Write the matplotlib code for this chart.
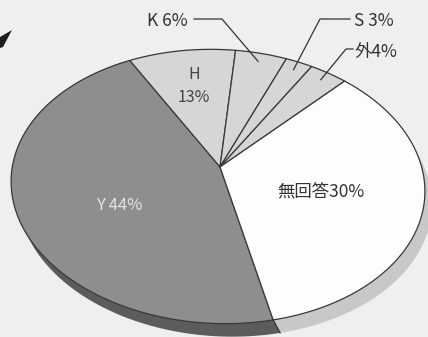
import numpy as np
import matplotlib.pyplot as plt
from matplotlib.patches import Polygon

plt.rcParams['font.family'] = ['Noto Sans CJK JP', 'DejaVu Sans']

# Datos del gráfico (sentido horario desde abajo)
categorias = ['Y', 'H', 'K', 'S', '外', '無回答']
porcentajes = [44, 13, 6, 3, 4, 30]
etiquetas = ['Y 44%', 'H\n13%', 'K 6%', 'S 3%', '外4%', '無回答30%']

colores_sup = ['#8e8e8e', '#d6d6d6', '#d6d6d6', '#d6d6d6', '#d6d6d6', '#fdfdfd']
colores_lado = ['#5c5c5c', '#a8a8a8', '#a8a8a8', '#a8a8a8', '#a8a8a8', '#c8c8c8']

# Geometría de la elipse (en píxeles de la imagen)
CX, CY = 218, 186.5
A, B = 207, 137
ROT = np.radians(-2.4)
APEX = (220, 167)
LADO = (7, 13)          # desplazamiento del canto
R_PERSP = 0.45          # deformación de perspectiva
PHI = 100               # dirección de la compresión (grados)
INICIO = 284.5          # ángulo de inicio (grados)


def warp(theta):
    """Ángulo real -> ángulo paramétrico de la elipse (perspectiva)."""
    off = np.radians(PHI - 90)
    a = theta - off
    t = np.arctan2(np.sin(a) * np.cosh(R_PERSP) + np.sinh(R_PERSP), np.cos(a))
    return np.unwrap(t) + off


def borde(theta, dx=0, dy=0):
    t = warp(theta)
    u = A * np.cos(t)
    v = B * np.sin(t)
    up = u * np.cos(ROT) - v * np.sin(ROT)
    vp = u * np.sin(ROT) + v * np.cos(ROT)
    return CX + up + dx, CY - vp + dy


fig = plt.figure(figsize=(4.28, 3.37), dpi=100)
fig.patch.set_facecolor('#efefef')
ax = fig.add_axes([0, 0, 1, 1])
ax.set_xlim(0, 428)
ax.set_ylim(337, 0)
ax.axis('off')

fr = np.array(porcentajes) / sum(porcentajes)
limites = np.radians(INICIO - 360 * np.concatenate([[0], np.cumsum(fr)]))

# canto (lado 3D)
for i in range(len(porcentajes)):
    th = np.linspace(limites[i], limites[i + 1], 200)
    x1, y1 = borde(th)
    x2, y2 = borde(th, *LADO)
    ax.add_patch(Polygon(np.column_stack([np.r_[x1, x2[::-1]], np.r_[y1, y2[::-1]]]),
                         closed=True, facecolor=colores_lado[i], edgecolor='none'))
x0, y0 = borde(np.array([limites[0]]))
ax.plot([x0[0], x0[0] + LADO[0]], [y0[0], y0[0] + LADO[1]], color='#333333', lw=0.9)

# cara superior
anclas = []
for i in range(len(porcentajes)):
    th = np.linspace(limites[i], limites[i + 1], 200)
    x, y = borde(th)
    ax.add_patch(Polygon(np.column_stack([np.r_[APEX[0], x], np.r_[APEX[1], y]]),
                         closed=True, facecolor=colores_sup[i], edgecolor='#383838',
                         lw=0.9, joinstyle='round'))
    xm, ym = borde(np.array([(limites[i] + limites[i + 1]) / 2]))
    anclas.append((APEX[0] + 0.93 * (xm[0] - APEX[0]), APEX[1] + 0.93 * (ym[0] - APEX[1])))

# etiquetas internas
ax.text(119, 205, etiquetas[0], color='#e4e4e4', fontsize=12, ha='center', va='center')
ax.text(194, 86, etiquetas[1], color='#444444', fontsize=11.5, ha='center', va='center',
        linespacing=1.45)
ax.text(321, 192, etiquetas[5], color='#333333', fontsize=12.5, ha='center', va='center')

# etiquetas externas con líneas guía
ax.text(188, 21, etiquetas[2], color='#333333', fontsize=12.5, ha='right', va='center')
ax.plot([194, 222, anclas[2][0]], [19, 19, anclas[2][1]], color='#333333', lw=0.9)
ax.text(354, 21, etiquetas[3], color='#333333', fontsize=12.5, ha='left', va='center')
ax.plot([350, 320, anclas[3][0]], [19, 19, anclas[3][1]], color='#333333', lw=0.9)
ax.text(355, 52, etiquetas[4], color='#333333', fontsize=12.5, ha='left', va='center')
ax.plot([353, 346, anclas[4][0]], [49, 49, anclas[4][1]], color='#333333', lw=0.9)

# punta de flecha cortada (arriba a la izquierda)
ax.add_patch(Polygon([[0, 37], [12, 30], [3, 47], [0, 48]], closed=True,
                     facecolor='#1e1e1e', edgecolor='none'))

fig.savefig('out.png', dpi=100, facecolor=fig.get_facecolor())
